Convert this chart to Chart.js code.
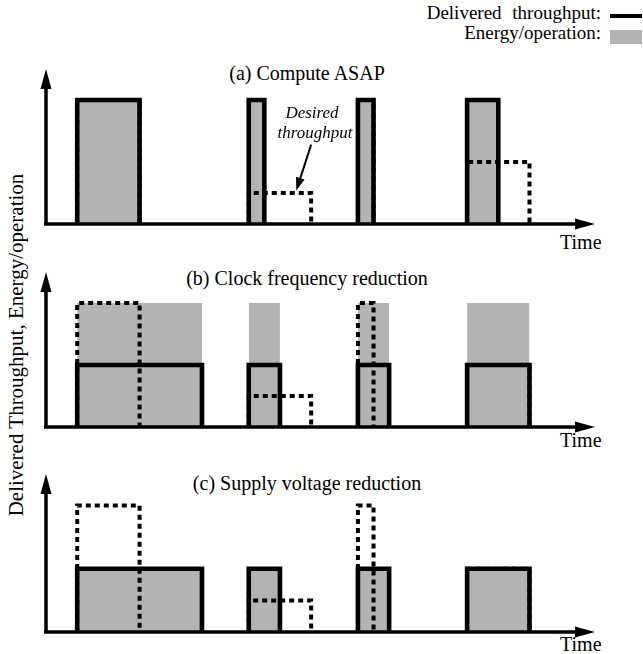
<!DOCTYPE html>
<html>
<head>
<meta charset="utf-8">
<script src="https://cdn.jsdelivr.net/npm/chart.js@4/dist/chart.umd.min.js"></script>
<style>
  html, body { margin: 0; padding: 0; background: #fff; }
  #page { position: relative; width: 643px; height: 654px; overflow: hidden;
          font-family: "Liberation Serif", "Times New Roman", serif; color: #000; }
  canvas { position: absolute; left: 0; }
  .txt { position: absolute; white-space: nowrap; font-size: 20px; line-height: 22px; }
  .title { width: 400px; text-align: center; }
  .note { width: 120px; text-align: center; font-style: italic; font-size: 17px; line-height: 20px; }
</style>
</head>
<body>
<div id="page">
  <div class="txt" style="right:42px; top:2px; font-size:19px; word-spacing:6px;">Delivered throughput:</div>
  <div class="txt" style="right:42px; top:22px; font-size:19px;">Energy/operation:</div>
  <div style="position:absolute; left:610px; top:14px; width:32px; height:4px; background:#000;"></div>
  <div style="position:absolute; left:610px; top:30px; width:32px; height:14px; background:#b3b3b3;"></div>

  <div class="txt" style="left:16px; top:345px; font-size:21px; transform:translate(-50%,-50%) rotate(-90deg);">Delivered Throughput, Energy/operation</div>

  <div class="txt title" style="left:107px; top:62px;">(a) Compute ASAP</div>
  <div class="txt title" style="left:107px; top:267px;">(b) Clock frequency reduction</div>
  <div class="txt title" style="left:107px; top:472px;">(c) Supply voltage reduction</div>

  <div class="txt" style="left:560px; top:231px;">Time</div>
  <div class="txt" style="left:560px; top:429px;">Time</div>
  <div class="txt" style="left:560px; top:633px;">Time</div>

  <canvas id="chartA" style="top:40px;"></canvas>
  <canvas id="chartB" style="top:240px;"></canvas>
  <canvas id="chartC" style="top:445px;"></canvas>

  <div class="txt note" style="left:252px; top:103px;">Desired</div>
  <div class="txt note" style="left:255px; top:123px;">throughput</div>
</div>

<script>
// axis extents (arrow tips)
var xMax = 35.2;
var yMax = 1.25;

// four tasks, same start times in every panel
var taskStart    = [2, 13, 20, 27];
// desired throughput (dotted)
var desiredEnd   = [6, 17, 21, 31];
var desiredLevel = [1, 0.25, 1, 0.5];

// (a) compute ASAP
var asapEnd      = [6, 14, 21, 29];
var asapLevel    = [1, 1, 1, 1];
var asapEnergy   = [1, 1, 1, 1];

// (b) clock frequency reduction
var clockEnd     = [10, 15, 22, 31];
var clockLevel   = [0.5, 0.5, 0.5, 0.5];
var clockEnergy  = [1, 1, 1, 1];

// (c) supply voltage reduction
var voltEnd      = [10, 15, 22, 31];
var voltLevel    = [0.5, 0.5, 0.5, 0.5];
var voltEnergy   = [0.5, 0.5, 0.5, 0.5];

// "Desired throughput" pointer in panel (a), data coordinates
var noteFrom = [17, 0.64];
var noteTo   = [16.05, 0.27];

/* rectangles as one line, broken by null points */
function boxes(starts, ends, levels) {
    var pts = [];
    for (var i = 0; i < starts.length; i++) {
        pts.push({x: starts[i], y: 0});
        pts.push({x: starts[i], y: levels[i]});
        pts.push({x: ends[i], y: levels[i]});
        pts.push({x: ends[i], y: 0});
        pts.push({x: ends[i], y: null});
    }
    return pts;
}

/* axes with arrow heads */
var arrowAxes = {
    id: 'arrowAxes',
    afterDatasetsDraw: function(chart) {
        var c = chart.ctx;
        var x0 = chart.scales.x.getPixelForValue(0);
        var x1 = chart.scales.x.getPixelForValue(xMax);
        var y0 = chart.scales.y.getPixelForValue(0);
        var y1 = chart.scales.y.getPixelForValue(yMax);
        c.save();
        c.strokeStyle = '#000';
        c.fillStyle = '#000';
        c.lineWidth = 3.5;
        c.lineCap = 'butt';
        c.beginPath();
        c.moveTo(x0 - 2, y0);
        c.lineTo(x1 - 16, y0);
        c.moveTo(x0, y0 + 1.5);
        c.lineTo(x0, y1 + 16);
        c.stroke();
        // x arrow
        c.beginPath();
        c.moveTo(x1, y0);
        c.lineTo(x1 - 20, y0 - 5.5);
        c.lineTo(x1 - 20, y0 + 5.5);
        c.closePath();
        c.fill();
        // y arrow
        c.beginPath();
        c.moveTo(x0, y1);
        c.lineTo(x0 - 5.5, y1 + 20);
        c.lineTo(x0 + 5.5, y1 + 20);
        c.closePath();
        c.fill();
        c.restore();
    }
};

/* pointer from the note to the dotted line */
var notePointer = {
    id: 'notePointer',
    afterDatasetsDraw: function(chart) {
        var c = chart.ctx;
        var ax = chart.scales.x.getPixelForValue(noteFrom[0]);
        var ay = chart.scales.y.getPixelForValue(noteFrom[1]);
        var bx = chart.scales.x.getPixelForValue(noteTo[0]);
        var by = chart.scales.y.getPixelForValue(noteTo[1]);
        var ang = Math.atan2(by - ay, bx - ax);
        var len = 13, half = 4.5;
        var hx = bx - len * Math.cos(ang), hy = by - len * Math.sin(ang);
        c.save();
        c.strokeStyle = '#000';
        c.fillStyle = '#000';
        c.lineWidth = 2;
        c.beginPath();
        c.moveTo(ax, ay);
        c.lineTo(hx, hy);
        c.stroke();
        c.beginPath();
        c.moveTo(bx, by);
        c.lineTo(hx + half * Math.sin(ang), hy - half * Math.cos(ang));
        c.lineTo(hx - half * Math.sin(ang), hy + half * Math.cos(ang));
        c.closePath();
        c.fill();
        c.restore();
    }
};

function makePanel(id, height, padTop, padBottom, ends, levels, energy, extra) {
    var cv = document.getElementById(id);
    cv.width = 643;
    cv.height = height;
    cv.style.width = '643px';
    cv.style.height = height + 'px';

    return new Chart(cv.getContext('2d'), {
        type: 'line',
        data: {
            datasets: [{
                label: 'Delivered throughput',
                data: boxes(taskStart, ends, levels),
                borderColor: '#000',
                borderWidth: 4.6,
                borderJoinStyle: 'miter',
                fill: false,
                pointRadius: 0,
                clip: false,
                order: 0
            }, {
                label: 'Desired throughput',
                data: boxes(taskStart, desiredEnd, desiredLevel),
                borderColor: '#000',
                borderWidth: 4,
                borderDash: [5, 4],
                borderJoinStyle: 'miter',
                fill: false,
                pointRadius: 0,
                clip: false,
                order: 1
            }, {
                label: 'Energy/operation',
                data: boxes(taskStart, ends, energy),
                borderWidth: 0,
                borderColor: 'rgba(0,0,0,0)',
                backgroundColor: '#b3b3b3',
                fill: 'origin',
                pointRadius: 0,
                clip: false,
                order: 2
            }]
        },
        options: {
            responsive: false,
            animation: false,
            layout: { padding: { left: 46, right: 643 - 595, top: padTop, bottom: padBottom } },
            plugins: { legend: { display: false }, tooltip: { enabled: false } },
            scales: {
                x: { type: 'linear', min: 0, max: xMax, display: false },
                y: { type: 'linear', min: 0, max: yMax, display: false }
            }
        },
        plugins: extra ? [arrowAxes, notePointer] : [arrowAxes]
    });
}

makePanel('chartA', 200, 29, 16, asapEnd, asapLevel, asapEnergy, true);
makePanel('chartB', 205, 32, 18, clockEnd, clockLevel, clockEnergy);
makePanel('chartC', 209, 29, 22, voltEnd, voltLevel, voltEnergy);
</script>
</body>
</html>
